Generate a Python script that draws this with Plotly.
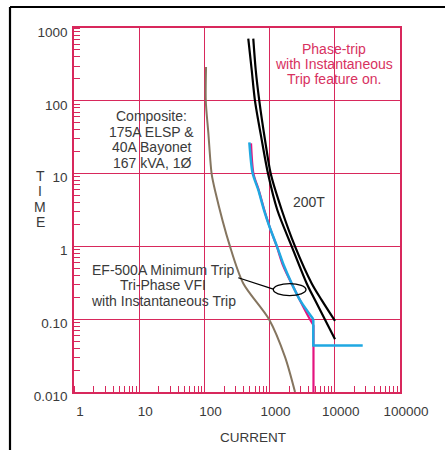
import plotly.graph_objects as go

# ---------------- data ----------------
brown_current = [106, 105, 115, 129, 145, 247, 395, 979, 1722, 2454]
brown_time = [291, 100, 36, 10, 5.97, 1, 0.31, 0.1, 0.0304, 0.01]

black_a_current = [471, 531, 597, 757, 945, 1313, 2183, 3707, 4970, 10070]
black_a_time = [713, 267, 100, 29.1, 10, 3.16, 1, 0.31, 0.183, 0.053]

black_b_current = [562, 612, 695, 850, 1040, 1534, 2453, 4425, 6295, 10070]
black_b_time = [713, 267, 100, 29.1, 10, 3.16, 1, 0.31, 0.183, 0.095]

magenta_curve_current = [519, 565, 680, 830, 1014, 1290, 1600, 2300, 4150, 4710]
magenta_curve_time = [26, 10, 5.97, 3.16, 1.79, 1, 0.555, 0.279, 0.1, 0.083]
magenta_step_current = [4710, 4710]
magenta_step_time = [0.083, 0.01]

blue_curve_current = [489, 551, 671, 820, 1014, 1298, 1644, 2183, 2925, 4680]
blue_curve_time = [26.9, 10, 5.97, 3.16, 1.79, 1, 0.555, 0.31, 0.183, 0.1]
blue_step_current = [4680, 4680, 26800]
blue_step_time = [0.1, 0.0436, 0.0436]

x_tick_values = [1, 10, 100, 1000, 10000, 100000]
x_tick_labels = ["1", "10", "100", "1000", "10000", "100000"]
y_tick_values = [0.01, 0.1, 1, 10, 100, 1000]
y_tick_labels = ["0.010", "0.10", "1", "10", "100", "1000"]

# ---------------- styling ----------------
W, H = 445, 450
L, R, T, B = 74, 45, 28, 58
PW, PH = W - L - R, H - T - B
GRID = "#D8285C"
TEXT = "#3A3A3A"
PINK_TEXT = "#D8325F"
FONT = "Liberation Sans"


def px(xp):
    return (xp - L) / PW


def py(yp):
    return (T + PH - yp) / PH


fig = go.Figure()


def add_line(x, y, color, width, shape="spline"):
    fig.add_trace(go.Scatter(x=x, y=y, mode="lines",
                             line=dict(color=color, width=width, shape=shape, smoothing=0.8),
                             hoverinfo="skip", showlegend=False))


add_line(brown_current, brown_time, "#85755F", 2)
add_line(black_a_current, black_a_time, "#000000", 2.2)
add_line(black_b_current, black_b_time, "#000000", 2.2)
add_line(magenta_curve_current, magenta_curve_time, "#E4147F", 2.2)
add_line(magenta_step_current, magenta_step_time, "#E4147F", 2.2, "linear")
add_line(blue_curve_current, blue_curve_time, "#1FA8E2", 2.5)
add_line(blue_step_current, blue_step_time, "#1FA8E2", 2.5, "linear")

axis_common = dict(
    type="log", showgrid=True, gridcolor=GRID, gridwidth=1.4,
    showline=True, linecolor=GRID, linewidth=1.6, mirror=True,
    ticks="", zeroline=False, tickmode="array",
    tickfont=dict(family=FONT, size=13.5, color=TEXT),
    minor=dict(ticks="inside", ticklen=6, tickwidth=1, tickcolor=GRID,
               dtick="D1", showgrid=False),
)

fig.update_layout(
    width=W, height=H, margin=dict(l=L, r=R, t=T, b=B),
    paper_bgcolor="white", plot_bgcolor="white",
    font=dict(family=FONT, color=TEXT),
    xaxis=dict(range=[0, 5], tickvals=x_tick_values, ticktext=x_tick_labels,
               ticklabelshift=6, ticklabelstandoff=6, **axis_common),
    yaxis=dict(range=[-2, 3], tickvals=y_tick_values, ticktext=y_tick_labels,
               ticklabelshift=4, ticklabelstandoff=2, **axis_common),
)

shapes = []
# white backgrounds behind labels (above grid, below traces)
for x0, x1, y0, y1 in [(104, 198, 102.5, 171.5), (272, 398, 33, 90), (86, 242, 253, 313)]:
    shapes.append(dict(type="rect", xref="paper", yref="paper",
                       x0=px(x0), x1=px(x1), y0=py(y1), y1=py(y0),
                       fillcolor="white", line=dict(width=0), layer="between"))
# outer frame (top + left)
shapes.append(dict(type="line", xref="paper", yref="paper", x0=px(10), x1=px(W + 5),
                   y0=py(7), y1=py(7), line=dict(color="black", width=2.2)))
shapes.append(dict(type="line", xref="paper", yref="paper", x0=px(10), x1=px(10),
                   y0=py(7), y1=py(H + 5), line=dict(color="black", width=2.2)))
# ellipse and leader for the EF-500A callout
shapes.append(dict(type="circle", xref="x", yref="y", x0=1140, x1=3615, y0=0.211, y1=0.309,
                   line=dict(color="black", width=1.3)))
shapes.append(dict(type="line", xref="x", yref="y", x0=331, y0=0.371, x1=1140, y1=0.259,
                   line=dict(color="black", width=1.3)))
fig.update_layout(shapes=shapes)


def label(lines, xc, ys, color=TEXT, size=14):
    for txt, yc in zip(lines, ys):
        fig.add_annotation(text=txt, xref="paper", yref="paper", x=px(xc), y=py(yc),
                           xanchor="center", yanchor="middle", showarrow=False,
                           font=dict(family=FONT, size=size, color=color))


label(["Composite:", "175A ELSP &", "40A Bayonet", "167 kVA, 1Ø"], 151.7, [116, 131.5, 147, 162.5])
label(["Phase-trip", "with Instantaneous", "Trip feature on."], 334, [49, 64, 79], PINK_TEXT)
label(["200T"], 309, [201.5])
label(["EF-500A Minimum Trip", "Tri-Phase VFI", "with Instantaneous Trip"], 163.3, [270, 285, 300.5])
label(["CURRENT"], 253, [437.5], size=13.5)
label(["T", "I", "M", "E"], 40, [175.5, 191, 206.5, 222], size=14)

fig.write_html("out.html", config={"displayModeBar": False},
               post_script="document.body.style.margin='0';document.body.style.padding='0';")
